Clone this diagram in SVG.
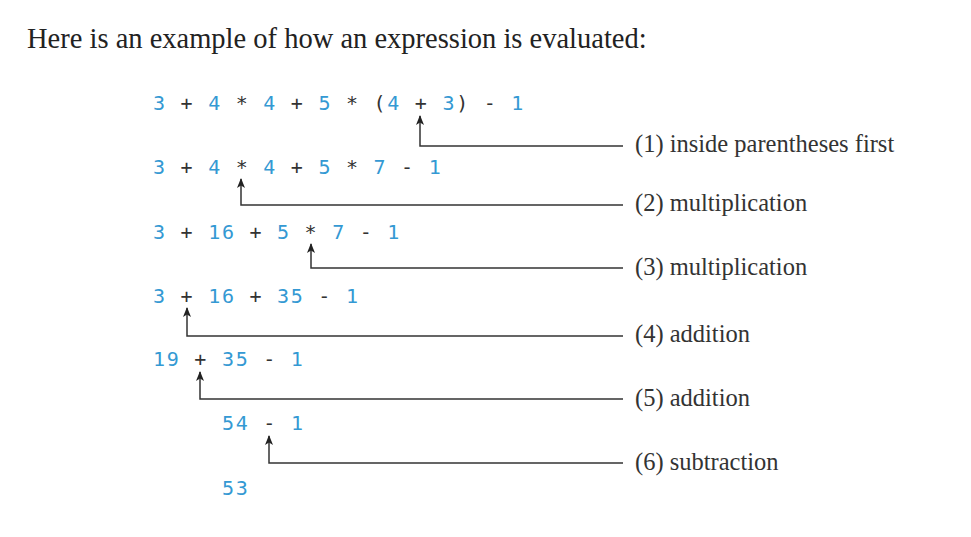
<svg xmlns="http://www.w3.org/2000/svg" width="971" height="537" viewBox="0 0 971 537">
<style>
.ex{font-family:"DejaVu Sans Mono",monospace;font-size:20px;letter-spacing:1.73px}
.n{fill:#3499d3}
.o{fill:#333}
.lb{font-family:"Liberation Serif",serif;font-size:24.5px;fill:#333}
.hd{font-family:"Liberation Serif",serif;font-size:28.5px;fill:#222}
.c{fill:none;stroke:#333;stroke-width:1.5}
</style>
<defs>
<marker id="ah" viewBox="0 0 10 8" refX="9" refY="4" markerWidth="10" markerHeight="8" markerUnits="userSpaceOnUse" orient="auto">
<path d="M0,0 L10,4 L0,8 L2.5,4 Z" fill="#222"/>
</marker>
</defs>
<rect width="971" height="537" fill="#fff"/>
<text class="hd" x="27" y="48">Here is an example of how an expression is evaluated:</text>
<g id="exprs">
<g id="row1"><text class="ex" x="153" y="110"><tspan class="n">3</tspan> <tspan class="o">+</tspan> <tspan class="n">4</tspan> <tspan class="o">*</tspan> <tspan class="n">4</tspan> <tspan class="o">+</tspan> <tspan class="n">5</tspan> <tspan class="o">*</tspan> <tspan class="o">(</tspan><tspan class="n">4</tspan> <tspan class="o">+</tspan> <tspan class="n">3</tspan><tspan class="o">)</tspan> <tspan class="o">-</tspan> <tspan class="n">1</tspan></text></g>
<g id="row2"><text class="ex" x="153" y="174"><tspan class="n">3</tspan> <tspan class="o">+</tspan> <tspan class="n">4</tspan> <tspan class="o">*</tspan> <tspan class="n">4</tspan> <tspan class="o">+</tspan> <tspan class="n">5</tspan> <tspan class="o">*</tspan> <tspan class="n">7</tspan> <tspan class="o">-</tspan> <tspan class="n">1</tspan></text></g>
<g id="row3"><text class="ex" x="153" y="239"><tspan class="n">3</tspan> <tspan class="o">+</tspan> <tspan class="n">16</tspan> <tspan class="o">+</tspan> <tspan class="n">5</tspan> <tspan class="o">*</tspan> <tspan class="n">7</tspan> <tspan class="o">-</tspan> <tspan class="n">1</tspan></text></g>
<g id="row4"><text class="ex" x="153" y="303"><tspan class="n">3</tspan> <tspan class="o">+</tspan> <tspan class="n">16</tspan> <tspan class="o">+</tspan> <tspan class="n">35</tspan> <tspan class="o">-</tspan> <tspan class="n">1</tspan></text></g>
<g id="row5"><text class="ex" x="153" y="366"><tspan class="n">19</tspan> <tspan class="o">+</tspan> <tspan class="n">35</tspan> <tspan class="o">-</tspan> <tspan class="n">1</tspan></text></g>
<g id="row6"><text class="ex" x="222" y="430"><tspan class="n">54</tspan> <tspan class="o">-</tspan> <tspan class="n">1</tspan></text></g>
<g id="row7"><text class="ex" x="222" y="495"><tspan class="n">53</tspan></text></g>
</g>
<g id="labels">
<g id="l1"><text class="lb" x="635" y="152">(1) inside parentheses first</text></g>
<g id="l2"><text class="lb" x="635" y="211">(2) multiplication</text></g>
<g id="l3"><text class="lb" x="635" y="275">(3) multiplication</text></g>
<g id="l4"><text class="lb" x="635" y="342">(4) addition</text></g>
<g id="l5"><text class="lb" x="635" y="406">(5) addition</text></g>
<g id="l6"><text class="lb" x="635" y="470">(6) subtraction</text></g>
</g>
<g id="connectors">
<path class="c" d="M623,146 H420 V116" marker-end="url(#ah)"/>
<path class="c" d="M623,205 H241 V179" marker-end="url(#ah)"/>
<path class="c" d="M623,268 H311 V244" marker-end="url(#ah)"/>
<path class="c" d="M623,336 H187 V308" marker-end="url(#ah)"/>
<path class="c" d="M623,399 H200 V372" marker-end="url(#ah)"/>
<path class="c" d="M623,463 H269 V436" marker-end="url(#ah)"/>
</g>
</svg>
